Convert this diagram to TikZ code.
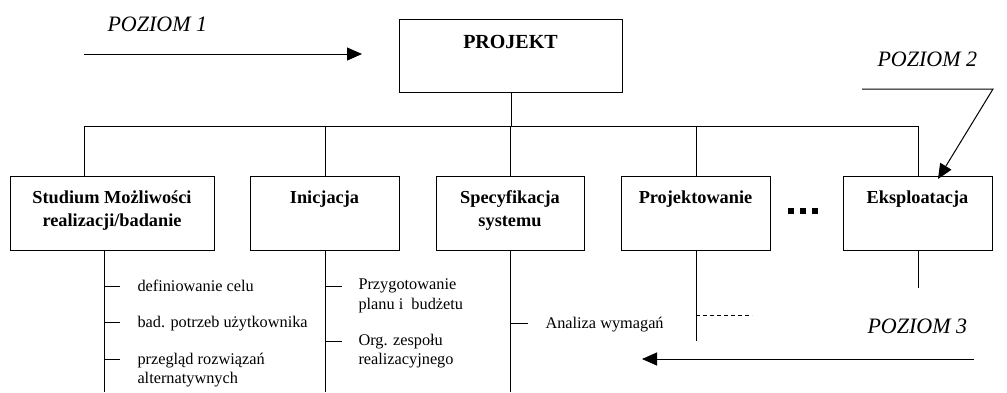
\documentclass[tikz,border=0pt]{standalone}
\usepackage{fontspec}
\setmainfont{Liberation Serif}
\usetikzlibrary{arrows.meta,calc}
\begin{document}
\begin{tikzpicture}[x=1pt,y=-1pt,line width=1pt,
  box/.style={draw,minimum height=74pt,inner sep=0pt},
  boxtext/.style={anchor=base,align=center,inner sep=0pt,font=\bfseries\fontsize{18.3}{23.5}\selectfont},
  subtext/.style={anchor=base west,align=left,inner sep=0pt,font=\fontsize{16.3}{19.5}\selectfont},
  level/.style={anchor=base west,inner sep=0pt,font=\itshape\fontsize{22}{24}\selectfont},
  arr/.style={-{Triangle[length=15pt,width=13pt]}},
  dot/.style={fill=black,draw=none,minimum size=6pt,inner sep=0pt}]
\useasboundingbox (0,0) rectangle (1007,392);
% top box
\node[box,minimum width=223pt,minimum height=73pt] (proj) at (510.5,55.5) {};
\node[boxtext,font=\bfseries\fontsize{20}{24}\selectfont] (projt) at (510.5,48) {PROJEKT};
% level boxes
\node[box,minimum width=204pt] (b1) at (112,213) {};
\node[box,minimum width=149pt] (b2) at (324.5,213) {};
\node[box,minimum width=148pt] (b3) at (510,213) {};
\node[box,minimum width=149pt] (b4) at (695.5,213) {};
\node[box,minimum width=149pt] (b5) at (917.5,213) {};
\node[boxtext] (t1) at (112,226.5) {Studium Możliwości\\realizacji/badanie};
\node[boxtext] (t2) at (324.5,203) {Inicjacja};
\node[boxtext] (t3) at (510,226.5) {Specyfikacja\\systemu};
\node[boxtext] (t4) at (695.5,203) {Projektowanie};
\node[boxtext] (t5) at (917.5,203) {Eksploatacja};
% dots
\node[dot] (d1) at (791,211) {};
\node[dot] (d2) at (803,211) {};
\node[dot] (d3) at (815,211) {};
% bus
\coordinate (p0) at (511.5,126);
\coordinate (c1) at (84,126);
\coordinate (c2) at (325,126);
\coordinate (c3) at (510,126);
\coordinate (c4) at (696,126);
\coordinate (c5) at (918,126);
\draw (proj.south -| p0) -- (p0);
\draw (c1) -- (c5);
\draw (c1) -- (c1 |- b1.north);
\draw (c2) -- (c2 |- b2.north);
\draw (c3) -- (c3 |- b3.north);
\draw (c4) -- (c4 |- b4.north);
\draw (c5) -- (c5 |- b5.north);
% lower trees
\coordinate (e1) at (104,392);
\coordinate (e2) at (325,392);
\coordinate (e3) at (510,392);
\coordinate (e4) at (696,341);
\coordinate (e5) at (918,288);
\draw (e1 |- b1.south) -- (e1);
\draw (e2 |- b2.south) -- (e2);
\draw (e3 |- b3.south) -- (e3);
\draw (e4 |- b4.south) -- (e4);
\draw (e5 |- b5.south) -- (e5);
% branch texts
\node[subtext] (s11) at (137,291) {definiowanie celu};
\node[subtext] (s12) at (137,327.5) {bad. potrzeb użytkownika};
\node[subtext] (s13) at (137,383.5) {przegląd rozwiązań\\alternatywnych};
\node[subtext] (s21) at (358,309) {Przygotowanie\\planu i\ \ budżetu};
\node[subtext] (s22) at (358,364.5) {Org. zespołu\\realizacyjnego};
\node[subtext] (s31) at (545,328) {Analiza wymagań};
\draw (104,286) -- (120,286);
\draw (104,322) -- (120,322);
\draw (104,359) -- (120,359);
\draw (325,286) -- (342,286);
\draw (325,341) -- (342,341);
\draw (510,323) -- (528,323);
\draw[dash pattern=on 4pt off 3pt] (696,315) -- (752,315);
% levels
\node[level] (l1) at (107,31) {POZIOM 1};
\node[level] (l2) at (877,66) {POZIOM 2};
\node[level] (l3) at (867,333) {POZIOM 3};
\coordinate (a1s) at (84,54);
\coordinate (a1e) at (362,54);
\draw[arr] (a1s) -- (a1e);
\coordinate (a2s) at (862,89);
\coordinate (a2m) at (993,89);
\coordinate (a2e) at (938,179);
\draw[arr] (a2s) -- (a2m) -- (a2e);
\coordinate (a3s) at (974,359);
\coordinate (a3e) at (642,359);
\draw[arr] (a3s) -- (a3e);
\end{tikzpicture}
\end{document}
